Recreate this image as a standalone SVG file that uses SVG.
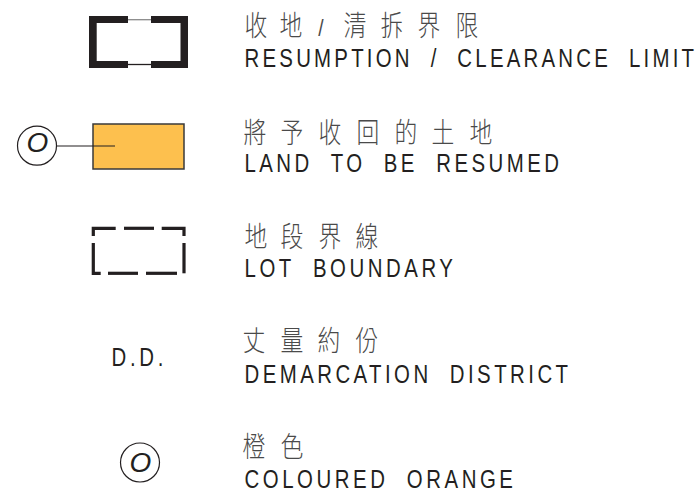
<svg xmlns="http://www.w3.org/2000/svg" width="699" height="495" viewBox="0 0 699 495">
<style>
.en{font-family:"Liberation Sans",Arial,sans-serif;font-size:25.5px;fill:#231f20;white-space:pre;}
.zh{font-family:"Noto Sans CJK TC","Noto Sans CJK SC",sans-serif;font-size:28.5px;font-weight:300;fill:#4a4a4a;text-anchor:middle;}
.sl{font-family:"Liberation Sans",Arial,sans-serif;font-size:24px;}
.ring{fill:none;stroke:#231f20;stroke-width:1.2;}
.oo{font-family:"Liberation Sans",Arial,sans-serif;font-size:28px;font-style:italic;fill:#231f20;text-anchor:middle;}
.dash{fill:none;stroke:#231f20;stroke-width:3.2;stroke-linecap:butt;stroke-linejoin:miter;}
</style>
<rect width="699" height="495" fill="#ffffff"/>

<g id="resumption-limit">
  <path d="M89,16 H128 V23 H96.7 V61 H128 V68 H89 Z" fill="#231f20"/>
  <path d="M151,16 H188 V68 H151 V61 H180.5 V23 H151 Z" fill="#231f20"/>
  <line x1="128" y1="19.7" x2="151" y2="19.7" stroke="#8a8a8a" stroke-width="1.3"/>
  <line x1="128" y1="64.5" x2="151" y2="64.5" stroke="#231f20" stroke-width="1.3"/>
  <text class="zh" transform="scale(0.8,1)" y="36.5"><tspan x="320">收</tspan><tspan x="363.75">地</tspan><tspan class="sl" x="401.25">/</tspan><tspan x="443.75">清</tspan><tspan x="490">拆</tspan><tspan x="536.25">界</tspan><tspan x="583.75">限</tspan></text>
  <text class="en" transform="translate(244.5,66.7) scale(0.8,1)" textLength="561.9" lengthAdjust="spacing">RESUMPTION  /  CLEARANCE  LIMIT</text>
</g>

<g id="land-to-be-resumed">
  <rect x="93" y="124" width="91" height="45" fill="#fdc04e" stroke="#3a3a3a" stroke-width="1.5"/>
  <circle class="ring" cx="37" cy="145.7" r="19.5"/>
  <text class="oo" x="37.5" y="151.5">O</text>
  <text class="zh" transform="scale(0.8,1)" y="143.3"><tspan x="318.75">將</tspan><tspan x="365">予</tspan><tspan x="412.5">收</tspan><tspan x="460">回</tspan><tspan x="507.5">的</tspan><tspan x="553.75">土</tspan><tspan x="601.25">地</tspan></text>
  <text class="en" transform="translate(244.5,171.7) scale(0.8,1)" textLength="393.1" lengthAdjust="spacing">LAND  TO  BE  RESUMED</text>
</g>

<g id="lot-boundary">
  <path class="dash" d="M93.3,236 V228.3 H115.7"/>
  <path class="dash" d="M124,228.3 H154"/>
  <path class="dash" d="M161.7,228.3 H184 V236"/>
  <path class="dash" d="M93.3,243 V273.3 H100.7"/>
  <path class="dash" d="M108,273.3 H138"/>
  <path class="dash" d="M146,273.3 H177"/>
  <path class="dash" d="M184,243 V273.3"/>
  <text class="zh" transform="scale(0.8,1)" y="247.3"><tspan x="320">地</tspan><tspan x="365">段</tspan><tspan x="412.5">界</tspan><tspan x="458.75">線</tspan></text>
  <text class="en" transform="translate(244.5,276.7) scale(0.8,1)" textLength="260.6" lengthAdjust="spacing">LOT  BOUNDARY</text>
</g>

<g id="demarcation-district">
  <text class="en" transform="translate(111.5,365.7) scale(0.8,1)" textLength="65" lengthAdjust="spacing">D.D.</text>
  <text class="zh" transform="scale(0.8,1)" y="351.3"><tspan x="317.5">丈</tspan><tspan x="365">量</tspan><tspan x="411.25">約</tspan><tspan x="458.75">份</tspan></text>
  <text class="en" transform="translate(244.5,382.7) scale(0.8,1)" textLength="404.4" lengthAdjust="spacing">DEMARCATION  DISTRICT</text>
</g>

<g id="coloured-orange">
  <circle class="ring" cx="140" cy="462.5" r="19.5"/>
  <text class="oo" x="140.5" y="472.3">O</text>
  <text class="zh" transform="scale(0.8,1)" y="457.3"><tspan x="317.5">橙</tspan><tspan x="365">色</tspan></text>
  <text class="en" transform="translate(244.5,488.3) scale(0.8,1)" textLength="335.6" lengthAdjust="spacing">COLOURED  ORANGE</text>
</g>

<g id="connectors">
  <line x1="56.5" y1="146" x2="115" y2="146" stroke="#231f20" stroke-width="1.2"/>
</g>
</svg>
